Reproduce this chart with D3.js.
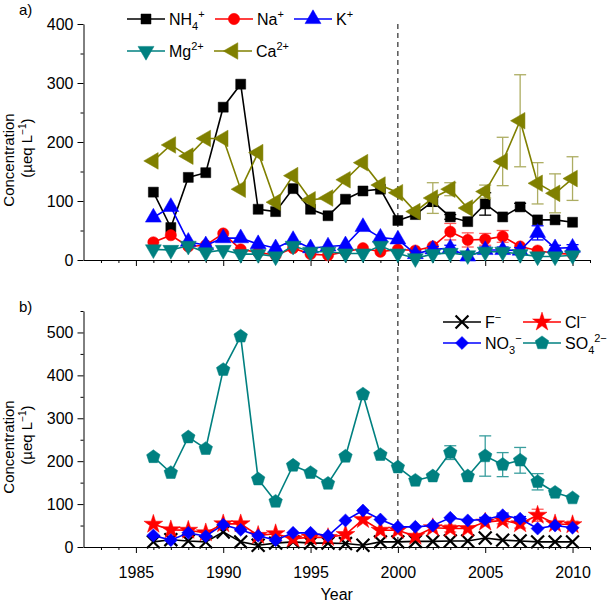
<!DOCTYPE html>
<html>
<head>
<meta charset="utf-8">
<script src="https://cdn.jsdelivr.net/npm/d3@7"></script>
<style>
  body { margin: 0; background: #fff; }
  svg { font-family: 'Liberation Sans', Arial, sans-serif; }
  .tick text { font-size: 16px; fill: #000; }
</style>
</head>
<body>
<div id="wrapper"></div>
<script>
// data, 1986-2010
const years = d3.range(1986, 2011)

const nh4 = [115, 55, 140, 148, 259, 298, 86, 82, 121, 86, 75, 103, 117, 120, 67, 77, 99, 73, 65, 95, 73, 90, 68, 68, 64]
const na = [30, 42, 23, 25, 45, 18, 13, 8, 20, 10, 8, 14, 20, 14, 18, 16, 23, 48, 34, 35, 40, 23, 16, 11, 10]
const k = [72, 90, 31, 25, 37, 37, 27, 20, 34, 20, 23, 25, 56, 38, 35, 10, 18, 20, 6, 17, 17, 16, 46, 20, 21]
const mg = [18, 17, 24, 13, 17, 10, 10, 6, 24, 14, 14, 11, 11, 24, 11, 3, 10, 12, 8, 14, 14, 10, 6, 6, 8]
const ca = [168, 195, 176, 206, 206, 120, 182, 98, 143, 102, 105, 136, 165, 127, 114, 82, 105, 120, 88, 116, 167, 236, 130, 113, 138]

// +/- error bars (0 = none drawn)
const nh4Err = [0, 0, 0, 0, 0, 0, 0, 0, 0, 0, 0, 0, 0, 0, 0, 0, 8, 4, 0, 19, 0, 6, 0, 0, 0]
const naErr = [0, 0, 0, 0, 0, 0, 0, 0, 0, 0, 0, 0, 0, 0, 0, 0, 0, 14, 12, 10, 10, 0, 0, 0, 0]
const kErr = [0, 0, 0, 0, 0, 0, 0, 0, 0, 0, 0, 0, 0, 0, 0, 5, 5, 5, 5, 5, 5, 5, 12, 5, 5]
const mgErr = [0, 0, 0, 0, 0, 0, 0, 0, 0, 0, 0, 0, 0, 0, 0, 0, 0, 0, 0, 0, 0, 0, 0, 0, 0]
const caErr = [0, 0, 0, 0, 0, 0, 0, 0, 0, 0, 0, 0, 0, 0, 0, 0, 26, 11, 0, 11, 41, 78, 35, 33, 37]

const f = [12, 17, 14, 12, 35, 12, 4, 9, 12, 9, 9, 8, 4, 12, 12, 13, 13, 14, 14, 21, 16, 14, 12, 12, 12]
const cl = [53, 40, 39, 33, 54, 54, 27, 31, 19, 23, 22, 29, 64, 39, 39, 25, 45, 43, 43, 58, 62, 54, 74, 54, 52]
const no3 = [27, 16, 33, 25, 52, 40, 26, 16, 33, 33, 26, 62, 85, 64, 47, 47, 50, 68, 62, 64, 74, 66, 43, 50, 45]
const so4 = [210, 173, 256, 229, 413, 491, 158, 106, 190, 173, 148, 211, 356, 215, 186, 155, 165, 220, 165, 212, 192, 202, 152, 127, 114]

const fErr = [0, 0, 0, 0, 0, 0, 0, 0, 0, 0, 0, 0, 0, 0, 0, 0, 0, 0, 0, 0, 0, 0, 0, 0, 0]
const clErr = [0, 0, 0, 0, 0, 0, 0, 0, 0, 0, 0, 0, 0, 0, 0, 0, 0, 8, 0, 0, 8, 10, 14, 0, 8]
const no3Err = [0, 0, 0, 0, 0, 0, 0, 0, 0, 0, 0, 0, 0, 0, 0, 0, 0, 0, 0, 5, 5, 5, 0, 0, 0]
const so4Err = [0, 0, 0, 0, 0, 0, 0, 0, 0, 0, 0, 0, 0, 0, 0, 0, 0, 16, 0, 47, 28, 30, 19, 5, 0]

const xDomain = [1982, 2011]
const xMajorTicks = [1985, 1990, 1995, 2000, 2005, 2010]
const topYTicks = [0, 100, 200, 300, 400]
const bottomYTicks = [0, 100, 200, 300, 400, 500]
const breakYear = 2000

// pentagon marker for sulphate
const symbolPentagon = {
  draw(context, size) {
    const r = Math.sqrt(size / (2.5 * Math.sin((2 * Math.PI) / 5)))
    for (let i = 0; i < 5; i++) {
      const a = -Math.PI / 2 + (i * 2 * Math.PI) / 5
      const px = r * Math.cos(a)
      const py = r * Math.sin(a)
      if (i === 0) context.moveTo(px, py)
      else context.lineTo(px, py)
    }
    context.closePath()
  },
}

const symbolCross = d3.symbolX || d3.symbolTimes

const topSeries = [
  { label: ['NH', '4', '+'], values: nh4, err: nh4Err, color: '#000000', errColor: '#000000', shape: d3.symbolSquare, size: 100, rotate: 0 },
  { label: ['Na', '', '+'], values: na, err: naErr, color: '#ff0000', errColor: '#ff5a5a', shape: d3.symbolCircle, size: 100, rotate: 0 },
  { label: ['K', '', '+'], values: k, err: kErr, color: '#0000ff', errColor: '#0000ff', shape: d3.symbolTriangle, size: 110, rotate: 0 },
  { label: ['Mg', '', '2+'], values: mg, err: mgErr, color: '#008080', errColor: '#008080', shape: d3.symbolTriangle, size: 110, rotate: 180 },
  { label: ['Ca', '', '2+'], values: ca, err: caErr, color: '#808000', errColor: '#adad62', shape: d3.symbolTriangle, size: 120, rotate: -90 },
]

const bottomSeries = [
  { label: ['F', '', '\u2212'], values: f, err: fErr, color: '#000000', errColor: '#000000', shape: symbolCross, size: 110, rotate: 0 },
  { label: ['Cl', '', '\u2212'], values: cl, err: clErr, color: '#ff0000', errColor: '#ff5a5a', shape: d3.symbolStar, size: 110, rotate: 0 },
  { label: ['NO', '3', '\u2212'], values: no3, err: no3Err, color: '#0000ff', errColor: '#0000ff', shape: d3.symbolSquare, size: 85, rotate: 45 },
  { label: ['SO', '4', '2\u2212'], values: so4, err: so4Err, color: '#008080', errColor: '#3a9e9e', shape: symbolPentagon, size: 120, rotate: 0 },
]

const dimensions = {
  width: 610,
  height: 607,
  left: 83.5,
  right: 590,
  top: { y0: 24, y1: 260, max: 400 },
  bottom: { y0: 311, y1: 547, max: 550 },
}

const svg = d3
  .select('#wrapper')
  .append('svg')
  .attr('width', dimensions.width)
  .attr('height', dimensions.height)

const xScale = d3.scaleLinear().domain(xDomain).range([dimensions.left, dimensions.right])

function drawPanel(panel, series, yTicks, legend, letter) {
  const yScale = d3.scaleLinear().domain([0, panel.max]).range([panel.y1, panel.y0])
  const g = svg.append('g')

  // minor ticks (every year / every 50)
  const xMinor = d3.axisBottom(xScale)
    .tickValues(d3.range(1983, 2012).filter((y) => !xMajorTicks.includes(y)))
    .tickSize(3).tickFormat('')
  g.append('g').attr('transform', `translate(0,${panel.y1})`).call(xMinor)
    .call((a) => a.select('.domain').remove())

  const xMajor = d3.axisBottom(xScale).tickValues(xMajorTicks).tickSize(6)
    .tickSizeOuter(0).tickPadding(14).tickFormat(d3.format('d'))
  const xAxis = g.append('g').attr('transform', `translate(0,${panel.y1})`).call(xMajor)
  if (letter === 'a') xAxis.selectAll('.tick text').remove()

  const yMinor = d3.axisLeft(yScale)
    .tickValues(d3.range(50, panel.max + 1, 100)).tickSize(3).tickFormat('')
  g.append('g').attr('transform', `translate(${dimensions.left},0)`).call(yMinor)
    .call((a) => a.select('.domain').remove())

  const yMajor = d3.axisLeft(yScale).tickValues(yTicks).tickSize(6).tickSizeOuter(0).tickPadding(4)
  g.append('g').attr('transform', `translate(${dimensions.left},0)`).call(yMajor)

  g.selectAll('.domain, .tick line').attr('stroke', '#000').attr('stroke-width', 1)

  // y axis title
  const cy = (panel.y0 + panel.y1) / 2
  g.append('text')
    .attr('transform', `translate(14,${cy + 18}) rotate(-90)`)
    .attr('text-anchor', 'middle')
    .style('font-size', '15px')
    .text('Concentration')
  const unit = g.append('text')
    .attr('transform', `translate(32,${cy + 6}) rotate(-90)`)
    .attr('text-anchor', 'middle')
    .style('font-size', '15px')
  unit.append('tspan').text('(\u00b5eq L')
  unit.append('tspan').attr('dy', -6).style('font-size', '10px').text('\u22121')
  unit.append('tspan').attr('dy', 6).text(')')

  g.append('text').attr('x', 19).attr('y', panel === dimensions.top ? 15 : 312)
    .style('font-size', '15px').text(letter + ')')

  // series: error bars, lines, markers
  series.forEach((s) => {
    const pts = years.map((yr, i) => ({ yr, v: s.values[i], e: s.err[i] }))
    const eg = g.append('g').attr('stroke', s.errColor).attr('stroke-width', 1.3)
    pts.filter((d) => d.e > 0).forEach((d) => {
      const x = xScale(d.yr)
      eg.append('line').attr('x1', x).attr('x2', x)
        .attr('y1', yScale(d.v - d.e)).attr('y2', yScale(d.v + d.e))
      eg.append('line').attr('x1', x - 6).attr('x2', x + 6)
        .attr('y1', yScale(d.v + d.e)).attr('y2', yScale(d.v + d.e))
      eg.append('line').attr('x1', x - 6).attr('x2', x + 6)
        .attr('y1', yScale(d.v - d.e)).attr('y2', yScale(d.v - d.e))
    })

    g.append('path')
      .datum(pts)
      .attr('fill', 'none')
      .attr('stroke', s.color)
      .attr('stroke-width', 1.6)
      .attr('d', d3.line().x((d) => xScale(d.yr)).y((d) => yScale(d.v)))

    const sym = d3.symbol().type(s.shape).size(s.size)
    const isX = s.shape === symbolCross
    g.selectAll(null)
      .data(pts)
      .enter()
      .append('path')
      .attr('d', sym)
      .attr('transform', (d) => `translate(${xScale(d.yr)},${yScale(d.v)}) rotate(${s.rotate})`)
      .attr('fill', isX ? 'none' : s.color)
      .attr('stroke', s.color)
      .attr('stroke-width', isX ? 2.2 : 0.5)
  })

  // legend
  series.forEach((s, i) => {
    const pos = legend[i]
    const lg = g.append('g').attr('transform', `translate(${pos[0]},${pos[1]})`)
    lg.append('line').attr('x1', 0).attr('x2', 38).attr('stroke', s.color).attr('stroke-width', 1.6)
    const isX = s.shape === symbolCross
    lg.append('path')
      .attr('d', d3.symbol().type(s.shape).size(s.size))
      .attr('transform', `translate(19,0) rotate(${s.rotate})`)
      .attr('fill', isX ? 'none' : s.color)
      .attr('stroke', s.color)
      .attr('stroke-width', isX ? 2.2 : 0.5)
    const t = lg.append('text').attr('x', 42).attr('y', 6).style('font-size', '16px')
    t.append('tspan').text(s.label[0])
    if (s.label[1]) t.append('tspan').attr('dy', 5).style('font-size', '11px').text(s.label[1])
    t.append('tspan').attr('dy', s.label[1] ? -12 : -7).style('font-size', '11px').text(s.label[2])
  })

  return yScale
}

drawPanel(dimensions.top, topSeries, topYTicks,
  [[127, 19], [215, 19], [294, 19], [127, 51], [214, 51]], 'a')
drawPanel(dimensions.bottom, bottomSeries, bottomYTicks,
  [[443, 322], [523, 322], [443, 343], [523, 343]], 'b')

// pre/post 2000 divider through both panels
svg.append('line')
  .attr('x1', xScale(breakYear)).attr('x2', xScale(breakYear))
  .attr('y1', dimensions.top.y0).attr('y2', dimensions.bottom.y1)
  .attr('stroke', '#000').attr('stroke-width', 1)
  .attr('stroke-dasharray', '5,4')
  .lower()

svg.append('text')
  .attr('x', (dimensions.left + dimensions.right) / 2)
  .attr('y', 600)
  .attr('text-anchor', 'middle')
  .style('font-size', '16px')
  .text('Year')
</script>
</body>
</html>
